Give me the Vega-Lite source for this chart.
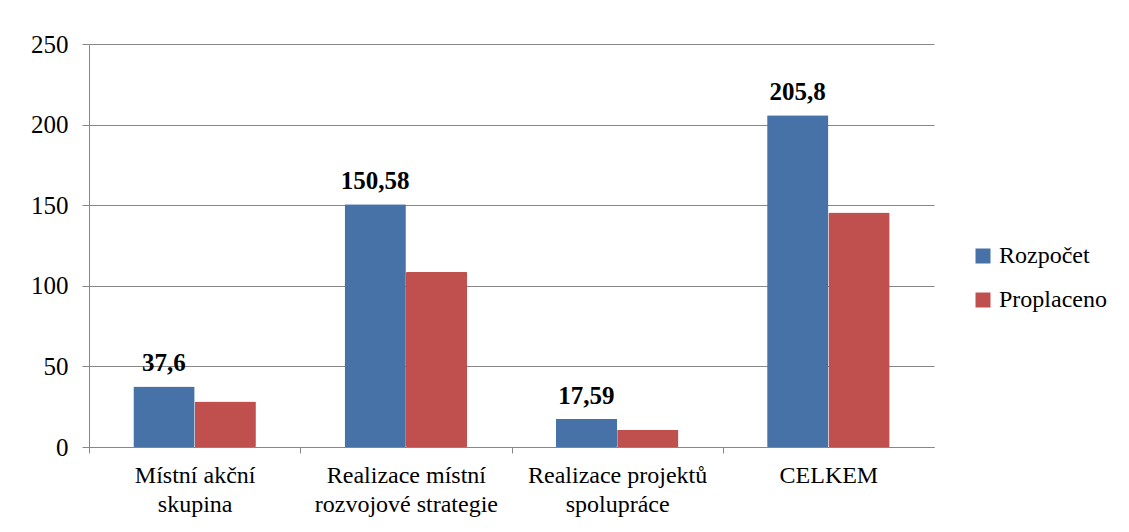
{
  "$schema": "https://vega.github.io/schema/vega-lite/v6.json",
  "autosize": "none",
  "width": 845,
  "height": 403,
  "padding": {"left": 89, "top": 44, "right": 195, "bottom": 85},
  "background": "white",
  "config": {
    "locale": {"number": {"decimal": ",", "thousands": " ", "grouping": [3], "currency": ["", " Kč"]}},
    "view": {"stroke": null},
    "font": "Liberation Serif, serif"
  },
  "data": {
    "values": [
      {"kategorie": "Místní akční skupina", "rada": "Rozpočet", "hodnota": 37.6},
      {"kategorie": "Místní akční skupina", "rada": "Proplaceno", "hodnota": 28.3},
      {"kategorie": "Realizace místní rozvojové strategie", "rada": "Rozpočet", "hodnota": 150.58},
      {"kategorie": "Realizace místní rozvojové strategie", "rada": "Proplaceno", "hodnota": 108.5},
      {"kategorie": "Realizace projektů spolupráce", "rada": "Rozpočet", "hodnota": 17.59},
      {"kategorie": "Realizace projektů spolupráce", "rada": "Proplaceno", "hodnota": 10.7},
      {"kategorie": "CELKEM", "rada": "Rozpočet", "hodnota": 205.8},
      {"kategorie": "CELKEM", "rada": "Proplaceno", "hodnota": 145.4}
    ]
  },
  "encoding": {
    "x": {
      "field": "kategorie",
      "type": "nominal",
      "sort": null,
      "scale": {"paddingInner": 0.42, "paddingOuter": 0.21},
      "axis": {
        "title": null,
        "labelAngle": 0,
        "labelFont": "Liberation Serif, serif",
        "labelFontSize": 24,
        "labelColor": "black",
        "labelLineHeight": 29,
        "labelPadding": 10,
        "labelLimit": 300,
        "labelExpr": "{'Místní akční skupina': ['Místní akční', 'skupina'], 'Realizace místní rozvojové strategie': ['Realizace místní', 'rozvojové strategie'], 'Realizace projektů spolupráce': ['Realizace projektů', 'spolupráce'], 'CELKEM': ['CELKEM']}[datum.label]",
        "tickOffset": -105.6,
        "labelOffset": 105.6,
        "tickSize": 6,
        "tickColor": "#878787",
        "domainColor": "#878787",
        "grid": false
      }
    },
    "xOffset": {
      "field": "rada",
      "type": "nominal",
      "sort": ["Rozpočet", "Proplaceno"],
      "scale": {"paddingInner": 0, "paddingOuter": 0}
    },
    "y": {
      "field": "hodnota",
      "type": "quantitative",
      "scale": {"domain": [0, 250], "nice": false},
      "axis": {
        "title": null,
        "values": [0, 50, 100, 150, 200, 250],
        "labelFont": "Liberation Serif, serif",
        "labelFontSize": 25,
        "labelColor": "black",
        "labelPadding": 14,
        "tickSize": 7,
        "tickColor": "#878787",
        "domainColor": "#878787",
        "gridColor": "#878787",
        "gridOpacity": 1
      }
    }
  },
  "layer": [
    {
      "mark": {"type": "bar", "cornerRadius": 1},
      "encoding": {
        "color": {
          "field": "rada",
          "type": "nominal",
          "sort": ["Rozpočet", "Proplaceno"],
          "scale": {"domain": ["Rozpočet", "Proplaceno"], "range": ["#4672A7", "#C0504D"]},
          "legend": {
            "title": null,
            "orient": "none",
            "legendX": 882,
            "legendY": 200,
            "symbolType": "square",
            "symbolSize": 225,
            "symbolStrokeWidth": 0,
            "labelFont": "Liberation Serif, serif",
            "labelFontSize": 24,
            "labelColor": "black",
            "labelOffset": 4,
            "rowPadding": 20
          }
        }
      }
    },
    {
      "transform": [{"filter": "datum.rada === 'Rozpočet'"}],
      "mark": {
        "type": "text",
        "font": "Liberation Serif, serif",
        "fontSize": 25,
        "fontWeight": "bold",
        "color": "black",
        "baseline": "alphabetic",
        "dy": -15
      },
      "encoding": {
        "text": {"field": "hodnota", "type": "quantitative", "format": ".5~g"}
      }
    }
  ]
}
